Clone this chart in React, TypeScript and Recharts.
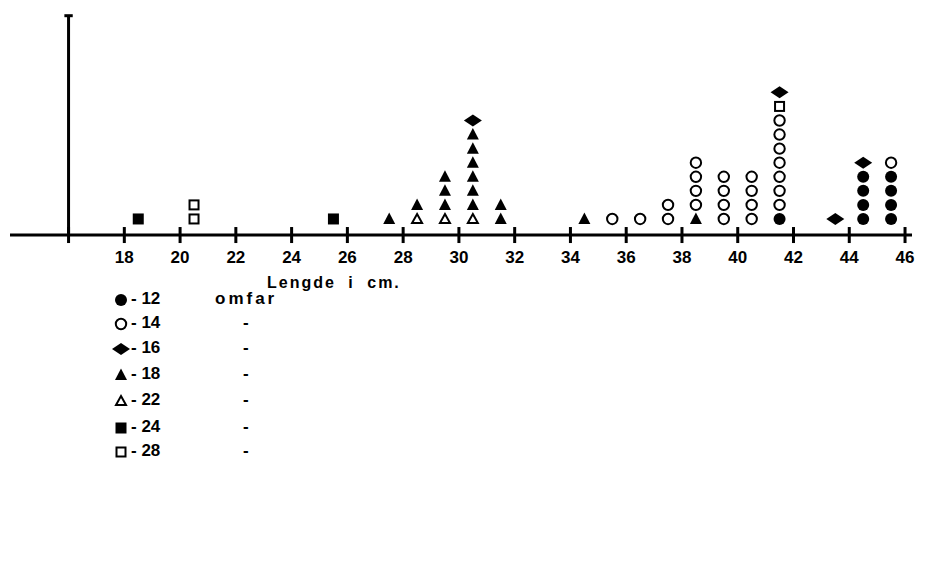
import React from 'react';
import {
  ScatterChart,
  Scatter,
  XAxis,
  YAxis,
  ReferenceLine,
} from 'recharts';

// length bins (cm, midpoints) and number of fish per circumference class
const bins = [18.5, 20.5, 25.5, 27.5, 28.5, 29.5, 30.5, 31.5, 34.5, 35.5, 36.5, 37.5, 38.5, 39.5, 40.5, 41.5, 43.5, 44.5, 45.5];
const c12 = [0, 0, 0, 0, 0, 0, 0, 0, 0, 0, 0, 0, 0, 0, 0, 1, 0, 4, 4];
const c14 = [0, 0, 0, 0, 0, 0, 0, 0, 0, 1, 1, 2, 4, 4, 4, 7, 0, 0, 1];
const c16 = [0, 0, 0, 0, 0, 0, 1, 0, 0, 0, 0, 0, 0, 0, 0, 1, 1, 1, 0];
const c18 = [0, 0, 0, 1, 1, 3, 6, 2, 1, 0, 0, 0, 1, 0, 0, 0, 0, 0, 0];
const c22 = [0, 0, 0, 0, 1, 1, 1, 0, 0, 0, 0, 0, 0, 0, 0, 0, 0, 0, 0];
const c24 = [1, 0, 1, 0, 0, 0, 0, 0, 0, 0, 0, 0, 0, 0, 0, 0, 0, 0, 0];
const c28 = [0, 2, 0, 0, 0, 0, 0, 0, 0, 0, 0, 0, 0, 0, 0, 1, 0, 0, 0];

const xTicks = [16, 18, 20, 22, 24, 26, 28, 30, 32, 34, 36, 38, 40, 42, 44, 46];

type Kind = 'dot' | 'ring' | 'diamond' | 'tri' | 'triOpen' | 'sq' | 'sqOpen';

// stacking order from the axis upwards
const classes: { key: string; label: string; counts: number[]; kind: Kind }[] = [
  { key: '22', label: '22', counts: c22, kind: 'triOpen' },
  { key: '18', label: '18', counts: c18, kind: 'tri' },
  { key: '24', label: '24', counts: c24, kind: 'sq' },
  { key: '12', label: '12', counts: c12, kind: 'dot' },
  { key: '14', label: '14', counts: c14, kind: 'ring' },
  { key: '28', label: '28', counts: c28, kind: 'sqOpen' },
  { key: '16', label: '16', counts: c16, kind: 'diamond' },
];

const legendOrder = ['12', '14', '16', '18', '22', '24', '28'];

// build stacked points: each fish sits one level above the previous one
const stacked: Record<string, { x: number; y: number }[]> = {};
const level = bins.map(() => 0);
classes.forEach((c) => {
  stacked[c.key] = [];
  c.counts.forEach((n, i) => {
    for (let k = 0; k < n; k++) {
      level[i] += 1;
      stacked[c.key].push({ x: bins[i], y: level[i] });
    }
  });
});

const tickMarks = xTicks.map((t) => ({ x: t, y: 0 }));

const Mark = ({ kind, cx, cy }: { kind: Kind; cx: number; cy: number }) => {
  switch (kind) {
    case 'dot':
      return <circle cx={cx} cy={cy} r={6} fill="#000" />;
    case 'ring':
      return <circle cx={cx} cy={cy} r={5.2} fill="#fff" stroke="#000" strokeWidth={2} />;
    case 'diamond':
      return <polygon points={`${cx - 9},${cy} ${cx},${cy - 6} ${cx + 9},${cy} ${cx},${cy + 6}`} fill="#000" />;
    case 'tri':
      return <polygon points={`${cx},${cy - 6.5} ${cx + 6},${cy + 5} ${cx - 6},${cy + 5}`} fill="#000" />;
    case 'triOpen':
      return (
        <polygon
          points={`${cx},${cy - 5} ${cx + 5},${cy + 4} ${cx - 5},${cy + 4}`}
          fill="#fff"
          stroke="#000"
          strokeWidth={2}
        />
      );
    case 'sq':
      return <rect x={cx - 5.5} y={cy - 5.5} width={11} height={11} fill="#000" />;
    case 'sqOpen':
      return <rect x={cx - 4.5} y={cy - 4.5} width={9} height={9} fill="#fff" stroke="#000" strokeWidth={2} />;
  }
  return null;
};

const shapeFor = (kind: Kind) => (props: any) => <Mark kind={kind} cx={props.cx} cy={props.cy} />;

// small vertical bar crossing the axis
const tickShape = (props: any) => (
  <rect x={props.cx - 1.5} y={props.cy - 6} width={3} height={16} fill="#000" />
);

const font = 'Liberation Sans, Arial, sans-serif';

const renderTick = (props: any) => {
  const { x, y, payload } = props;
  if (payload.value === 16) return <g key="t-16" />;
  return (
    <text
      key={`t-${payload.value}`}
      x={x}
      y={y + 20}
      textAnchor="middle"
      dominantBaseline="central"
      fontFamily={font}
      fontWeight={700}
      fontSize={17}
      fill="#000"
    >
      {payload.value}
    </text>
  );
};

const LegendBox = () => {
  const rowY = [300, 324, 349, 375, 401, 428, 452];
  return (
    <div style={{ position: 'absolute', left: 0, top: 0, width: 925, height: 573, fontFamily: font, fontWeight: 'bold', color: '#000', pointerEvents: 'none' }}>
      <div style={{ position: 'absolute', left: 267, top: 274, fontSize: 16, letterSpacing: 2, wordSpacing: 6, whiteSpace: 'nowrap' }}>
        Lengde i cm.
      </div>
      {legendOrder.map((k, i) => {
        const c = classes.find((d) => d.key === k)!;
        return (
          <div key={k} style={{ position: 'absolute', left: 0, top: rowY[i] - 10, height: 20, width: 400 }}>
            <svg style={{ position: 'absolute', left: 110, top: 0 }} width={22} height={20}>
              <Mark kind={c.kind} cx={11} cy={10} />
            </svg>
            <span style={{ position: 'absolute', left: 131, top: -1, fontSize: 17, whiteSpace: 'nowrap' }}>
              - {c.label}
            </span>
            <span style={{ position: 'absolute', left: i === 0 ? 215 : 243, top: -1, fontSize: 17, letterSpacing: i === 0 ? 3 : 0 }}>
              {i === 0 ? 'omfar' : '-'}
            </span>
          </div>
        );
      })}
    </div>
  );
};

export default function App() {
  return (
    <div style={{ position: 'absolute', left: 0, top: 0, width: 925, height: 573, background: '#fff' }}>
      <ScatterChart width={925} height={573} margin={{ top: 15, right: 13, bottom: 308, left: 10 }}>
        <XAxis
          type="number"
          dataKey="x"
          domain={[13.9, 46.25]}
          ticks={xTicks}
          allowDataOverflow
          height={30}
          axisLine={{ stroke: '#000', strokeWidth: 3 }}
          tickLine={false}
          tickSize={0}
          tickMargin={2}
          tick={renderTick}
          interval={0}
        />
        <YAxis type="number" dataKey="y" domain={[-0.14, 15.5]} hide />
        <ReferenceLine
          segment={[
            { x: 16, y: 0 },
            { x: 16, y: 15.5 },
          ]}
          stroke="#000"
          strokeWidth={3}
        />
        <ReferenceLine
          segment={[
            { x: 15.85, y: 15.45 },
            { x: 16.15, y: 15.45 },
          ]}
          stroke="#000"
          strokeWidth={3}
        />
        <Scatter name="ticks" data={tickMarks} shape={tickShape} isAnimationActive={false} />
        {classes.map((c) => (
          <Scatter
            key={c.key}
            name={c.label}
            data={stacked[c.key]}
            shape={shapeFor(c.kind)}
            isAnimationActive={false}
          />
        ))}
      </ScatterChart>
      <LegendBox />
    </div>
  );
}
